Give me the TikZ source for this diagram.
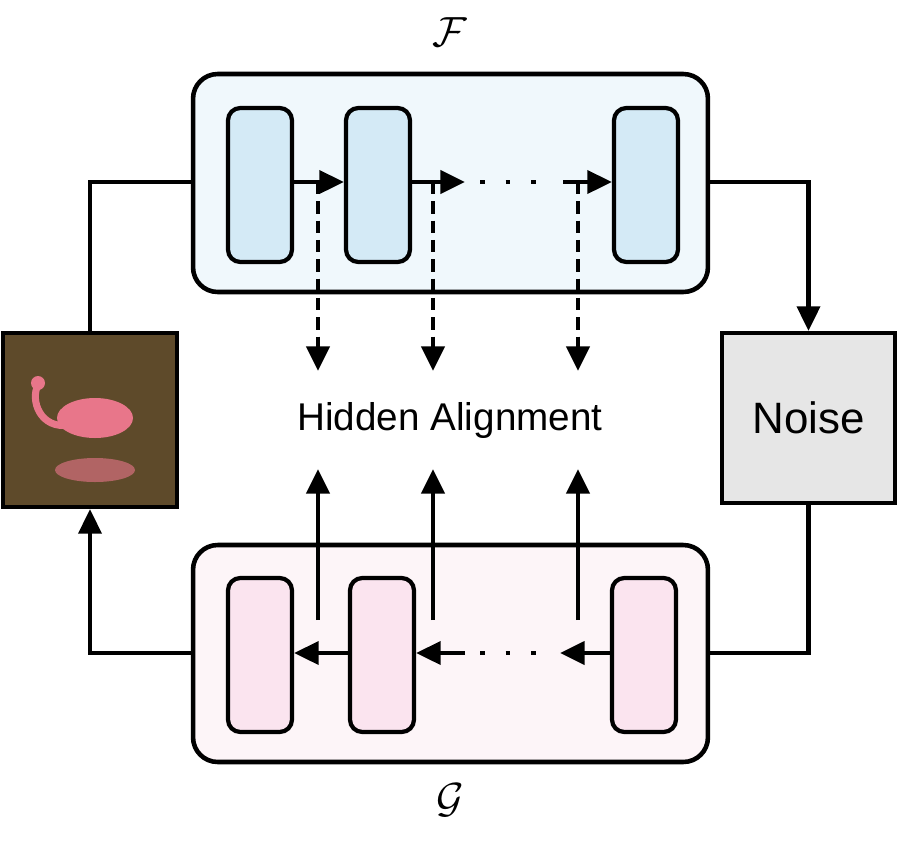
\documentclass[tikz,border=0pt]{standalone}
\usepackage{fontspec}
\setmainfont{Liberation Sans}
\usetikzlibrary{arrows.meta}

\definecolor{fblue}{HTML}{F0F8FC}
\definecolor{fblock}{HTML}{D4EAF6}
\definecolor{gpink}{HTML}{FDF5F8}
\definecolor{gblock}{HTML}{FBE4EF}
\definecolor{noisegray}{HTML}{E6E6E6}
\definecolor{water}{HTML}{5E4A2A}
\definecolor{flamingo}{HTML}{E8768A}

\tikzstyle{group}=[draw, line width=2.6pt, rounded corners=14pt, inner sep=0]
\tikzstyle{block}=[draw, line width=2.4pt, rounded corners=7pt, minimum width=1.28cm, minimum height=3.08cm, inner sep=0]
\tikzstyle{arr}=[line width=2.5pt, -{Triangle[length=14pt, width=13pt]}]
\tikzstyle{dotline}=[line width=2.6pt, dash pattern=on 2.6pt off 12pt]

\begin{document}
\begin{tikzpicture}[x=0.02cm, y=-0.02cm]
\useasboundingbox (0, 0) rectangle (900, 843);

% encoder F
\node [group, fill=fblue, minimum width=10.3cm, minimum height=4.36cm] (F) at (450.5, 183) {};
\node [block, fill=fblock] (f1) at (260, 185) {};
\node [block, fill=fblock] (f2) at (378, 185) {};
\node [block, fill=fblock] (f3) at (646, 185) {};
\node [scale=2.4] (Flabel) at (450, 32) {$\mathcal{F}$};

% decoder G
\node [group, fill=gpink, minimum width=10.3cm, minimum height=4.34cm] (G) at (450.5, 653.5) {};
\node [block, fill=gblock] (g1) at (260, 655) {};
\node [block, fill=gblock] (g2) at (382, 655) {};
\node [block, fill=gblock] (g3) at (644, 655) {};
\node [scale=2.4] (Glabel) at (450, 800) {$\mathcal{G}$};

% noise and image
\node [draw, line width=2.4pt, fill=noisegray, minimum width=3.46cm, minimum height=3.4cm, font=\fontsize{25}{30}\selectfont] (noise) at (808.5, 418) {Noise};
\node [draw, line width=2.4pt, fill=water, minimum width=3.48cm, minimum height=3.48cm] (img) at (90, 420) {};
\fill [flamingo] (95, 418) ellipse (38 and 20);
\draw [flamingo, line width=4pt] (70, 425) .. controls (40, 430) and (30, 400) .. (38, 385);
\fill [flamingo] (38, 383) circle (7);
\fill [flamingo!60!water] (95, 470) ellipse (40 and 12);

\node [font=\fontsize{22}{26}\selectfont] (align) at (450, 420) {Hidden Alignment};

% forward chain
\draw [arr] (f1.east |- 0, 182) -- (f2.west |- 0, 182);
\draw [arr] (f2.east |- 0, 182) -- (465, 182);
\draw [dotline] (480, 182) -- (548, 182);
\draw [arr] (563, 182) -- (f3.west |- 0, 182);

% backward chain
\draw [arr] (g2.west |- 0, 653) -- (g1.east |- 0, 653);
\draw [arr] (465, 653) -- (g2.east |- 0, 653);
\draw [dotline] (480, 653) -- (548, 653);
\draw [arr] (g3.west |- 0, 653) -- (560, 653);

% alignment arrows
\foreach \x in {318, 433, 578} {
  \draw [arr, dash pattern=on 7pt off 4pt] (\x, 182) -- (\x, 371);
  \draw [arr] (\x, 620) -- (\x, 469);
}

% outer loop
\draw [line width=2.5pt] (F.west |- 0, 182) -| (img.north);
\draw [arr] (F.east |- 0, 182) -| (noise.north);
\draw [line width=2.5pt] (noise.south) |- (G.east |- 0, 653);
\draw [arr] (G.west |- 0, 653) -| (img.south);

\end{tikzpicture}
\end{document}
